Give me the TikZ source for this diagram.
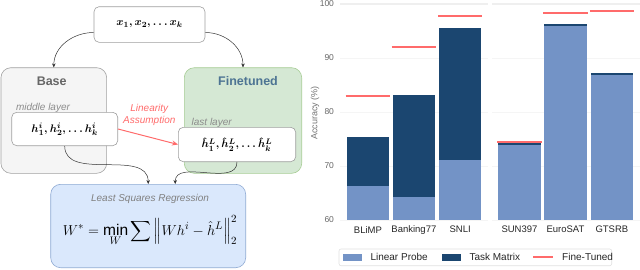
\documentclass[tikz,border=0pt]{standalone}
\usepackage{amsmath}
\usepackage{fontspec}
\setmainfont{Liberation Sans}
\usetikzlibrary{arrows.meta,calc}
\definecolor{basefill}{HTML}{F5F5F5}
\definecolor{basedraw}{HTML}{A0A0A0}
\definecolor{ftfill}{HTML}{D5E8D4}
\definecolor{ftdraw}{HTML}{A6CC94}
\definecolor{ftword}{HTML}{4D7493}
\definecolor{lsfill}{HTML}{DAE8FC}
\definecolor{lsdraw}{HTML}{8EA9D3}
\definecolor{redline}{HTML}{FF6B6B}
\definecolor{probe}{HTML}{7393C6}
\definecolor{taskmat}{HTML}{1B4670}
\definecolor{gridc}{HTML}{EFEFEF}
\begin{document}
\begin{tikzpicture}[x=1pt,y=-1pt,
    box/.style={draw=basedraw, line width=0.6pt, rounded corners=5pt, inner sep=0pt, font=\fontsize{11}{12}\selectfont},
    panel/.style={box, rounded corners=10pt},
    conn/.style={draw=black!80, line width=0.5pt, -{Stealth[length=4pt,width=3.5pt]}},
    tag/.style={font=\fontsize{10}{11}\selectfont\itshape, text=black!45},
    tick/.style={font=\fontsize{8.5}{10}\selectfont, text=black!60},
    cat/.style={font=\fontsize{9.5}{10}\selectfont, text=black!85}]
    \useasboundingbox (0,0) rectangle (640,269);

    %panels
    \node[panel, fill=basefill, minimum width=105.7pt, minimum height=105.6pt] (base) at (53.8,120.5) {};
    \node[panel, fill=ftfill, draw=ftdraw, minimum width=117.4pt, minimum height=105.6pt] (fine) at (243,120.5) {};
    \node[font=\fontsize{12.5}{13}\selectfont\bfseries, text=black!60] (basetitle) at (51.7,81) {Base};
    \node[font=\fontsize{12.5}{13}\selectfont\bfseries, text=ftword] (finetitle) at (248,81) {Finetuned};
    \node[tag] (midtag) at (43,107.7) {middle layer};
    \node[tag] (lasttag) at (211.7,122.7) {last layer};

    %boxes
    \node[box, fill=white, minimum width=111pt, minimum height=35.6pt] (inp) at (149.5,24.5)
        {$\boldsymbol{x_1, x_2, \dots x_k}$};
    \node[box, fill=white, minimum width=106pt, minimum height=33.4pt] (hmid) at (64.7,129)
        {$\boldsymbol{h^i_1, h^i_2, \dots h^i_k}$};
    \node[box, fill=white, minimum width=117.4pt, minimum height=34.4pt] (hlast) at (237,144.5)
        {$\boldsymbol{\hat{h}^L_1, \hat{h}^L_2, \dots \hat{h}^L_k}$};
    \node[panel, fill=lsfill, draw=lsdraw, minimum width=195pt, minimum height=83.4pt] (lsr) at (148.2,226) {};
    \node[tag, text=black!50] (lsrtag) at (150,199) {Least Squares Regression};
    \node[font=\fontsize{15.5}{17}\selectfont] (formula) at (150,231)
        {$\displaystyle W^* = \min_W \sum \left\| W h^i - \hat{h}^L \right\|_2^2$};

    %connectors
    \draw[conn] ([yshift=-8pt]inp.west) to[out=180,in=90] (base.north);
    \draw[conn] ([yshift=-8pt]inp.east) to[out=0,in=90] (fine.north);
    \draw[conn] (hmid.south) to[out=-90,in=90] (lsr.north);
    \draw[conn] (hlast.south) to[out=-90,in=90] ([xshift=27pt]lsr.north);
    \draw[draw=redline, line width=1pt, -{Stealth[length=6pt,width=5pt]}] (hmid.east) -- (hlast.west);
    \node[tag, text=redline, align=center, font=\fontsize{10}{11.7}\selectfont\itshape] (lintag) at (149.3,115)
        {Linearity\\Assumption};

    %chart
    \node[rotate=90, font=\fontsize{9}{10}\selectfont, text=black!55] (ylab) at (315,113) {Accuracy (\%)};
    \begin{scope}[x=1pt, y=5.4pt, yshift=-544pt]
        %grid
        \foreach \v in {60,70,80,90} {
            \draw[gridc!60, line width=0.5pt] (340,\v) -- (488,\v);
            \draw[gridc!60, line width=0.5pt] (492,\v) -- (640,\v);
            \node[tick, anchor=east] at (337.5,\v) {\v};
        }
        \draw[gridc, line width=1.2pt] (340,100) -- (488,100);
        \draw[gridc, line width=1.2pt] (492,100) -- (640,100);
        \node[tick, anchor=east] at (337.5,100) {100};
        %bars
        \foreach \xl/\lp/\tm/\ft/\name in {346.7/66.3/75.3/83.0/BLiMP, 392.7/64.3/83.2/92.0/Banking77,
            439/71.2/95.5/97.8/SNLI, 498.3/73.8/74.3/74.5/SUN397, 544.3/96.0/96.3/98.3/EuroSAT,
            590.7/86.8/87.2/98.7/GTSRB} {
            \fill[taskmat] (\xl,60) rectangle ++(42.4,\tm-60);
            \fill[probe] (\xl,60) rectangle ++(42.4,\lp-60);
            \draw[redline, line width=1.8pt] (\xl-1,\ft) -- ++(44.4,0);
            \node[cat] at (\xl+21.2,58.2) {\name};
        }
    \end{scope}

    %legend
    \draw[draw=black!12, line width=0.6pt, rounded corners=2pt] (339,249) rectangle (611.7,265.7);
    \fill[probe] (343,254) rectangle (362,260.5);
    \node[cat, anchor=west, font=\fontsize{10}{11}\selectfont] (probelab) at (367,257.3) {Linear Probe};
    \fill[taskmat] (441.7,254) rectangle (460.7,260.5);
    \node[cat, anchor=west, font=\fontsize{10}{11}\selectfont] (tasklab) at (466,257.3) {Task Matrix};
    \draw[redline, line width=1.8pt] (533,257.3) -- (553,257.3);
    \node[cat, anchor=west, font=\fontsize{10}{11}\selectfont] (ftlab) at (558.7,257.3) {Fine-Tuned};
\end{tikzpicture}
\end{document}
